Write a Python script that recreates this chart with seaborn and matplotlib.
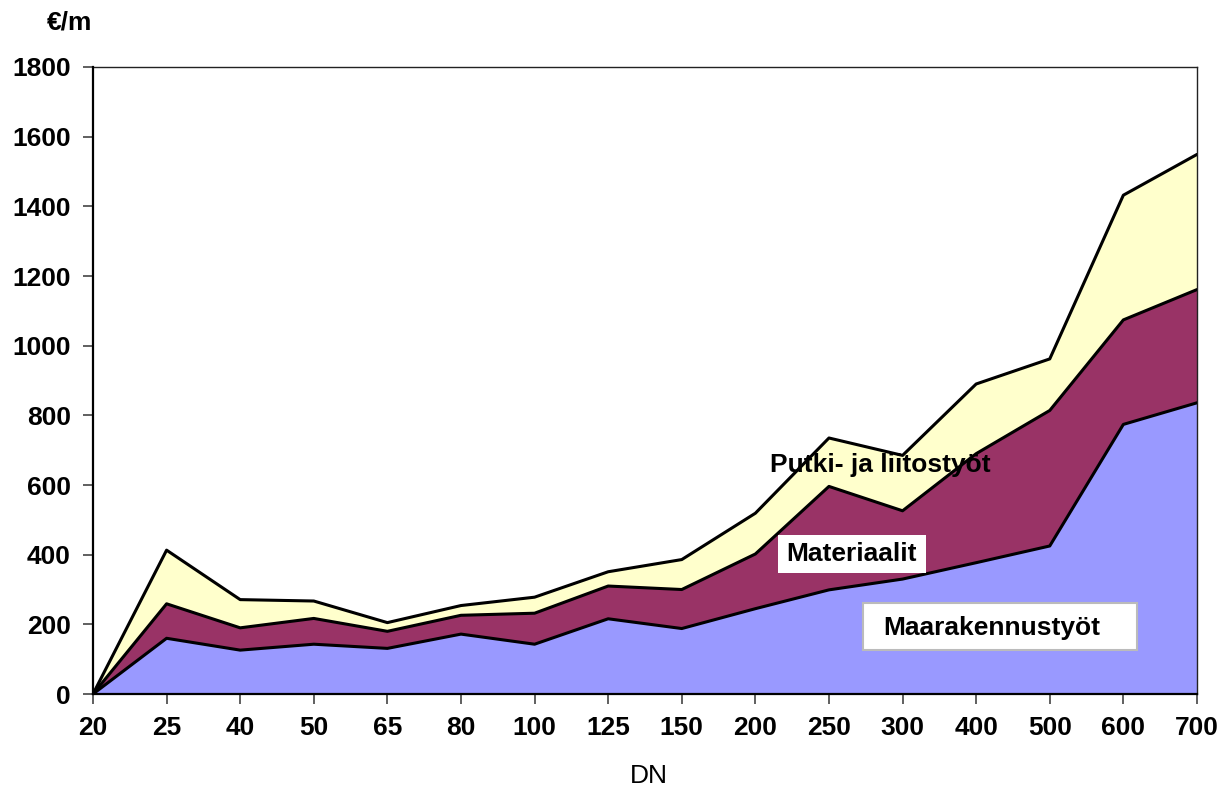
import numpy as np
import pandas as pd
import matplotlib
matplotlib.use("Agg")
import matplotlib.pyplot as plt
from matplotlib.patches import Rectangle
import seaborn as sns

# === Data (EUR per metre by pipe size DN) ===
dn = ["20", "25", "40", "50", "65", "80", "100", "125", "150",
      "200", "250", "300", "400", "500", "600", "700"]
maarakennus = [0, 160, 126, 143, 131, 172, 143, 216, 188, 245, 299, 330, 377, 425, 774, 836]
materiaalit = [0, 99, 64, 74, 49, 54, 89, 94, 112, 157, 297, 196, 313, 389, 300, 325]
putki = [0, 154, 81, 50, 25, 28, 46, 41, 86, 117, 139, 159, 200, 148, 358, 388]

layers = ["Maarakennustyöt", "Materiaalit", "Putki- ja liitostyöt"]
colors = ["#9999FF", "#993366", "#FFFFCC"]

df = pd.DataFrame({"DN": dn, layers[0]: maarakennus,
                   layers[1]: materiaalit, layers[2]: putki})
df["pos"] = np.arange(len(df))

sns.set_theme(style="white")
plt.rcParams["font.family"] = ["Liberation Sans", "DejaVu Sans"]
plt.rcParams["text.color"] = "black"

fig = plt.figure(figsize=(12.22, 7.91), dpi=100)
ax = fig.add_axes([0.0761, 0.1226, 0.9034, 0.7927])

# === Stacked areas ===
lower = np.zeros(len(df))
tops = []
for name, col in zip(layers, colors):
    upper = lower + df[name].to_numpy()
    ax.fill_between(df["pos"], lower, upper, color=col, lw=0, zorder=1)
    tops.append(upper)
    lower = upper

for upper in tops:
    sns.lineplot(x=df["pos"], y=upper, color="black", lw=2.2,
                 estimator=None, legend=False, ax=ax, zorder=3)

# === Axes ===
ax.set_xlim(0, len(df) - 1)
ax.set_ylim(0, 1800)
ax.set_yticks(range(0, 1801, 200))
ax.set_xticks(df["pos"], df["DN"])
ax.set_xlabel("")
ax.set_ylabel("")
ax.tick_params(axis="both", direction="out", length=7, width=1.2, color="#444444",
               labelcolor="black", labelsize=19, pad=9, bottom=True, left=True)
for lab in ax.get_xticklabels() + ax.get_yticklabels():
    lab.set_fontweight("bold")
for side in ["left", "bottom"]:
    ax.spines[side].set_color("black")
    ax.spines[side].set_linewidth(1.6)
    ax.spines[side].set_zorder(4)
for side in ["top", "right"]:
    ax.spines[side].set_color("#222222")
    ax.spines[side].set_linewidth(1.0)

# === Labels ===
fig.text(0.0753, 0.971, "€/m", ha="right", va="center", fontsize=19, fontweight="bold")
fig.text(0.5310, 0.0190, "DN", ha="center", va="center", fontsize=19)

fig.text(0.6301, 0.4121, "Putki- ja liitostyöt", ha="left", va="center",
         fontsize=19, fontweight="bold", zorder=5)

fig.add_artist(Rectangle((0.6367, 0.2756), 0.1211, 0.0480, transform=fig.transFigure,
                         facecolor="white", edgecolor="none", zorder=5))
fig.text(0.6972, 0.2996, "Materiaalit", ha="center", va="center",
         fontsize=19, fontweight="bold", zorder=6)

fig.add_artist(Rectangle((0.7062, 0.1782), 0.2242, 0.0594, transform=fig.transFigure,
                         facecolor="white", edgecolor="#BBBBBB", lw=1.5, zorder=5))
fig.text(0.7226, 0.2061, "Maarakennustyöt", ha="left", va="center",
         fontsize=19, fontweight="bold", zorder=6)

fig.savefig("out.png", dpi=100)
